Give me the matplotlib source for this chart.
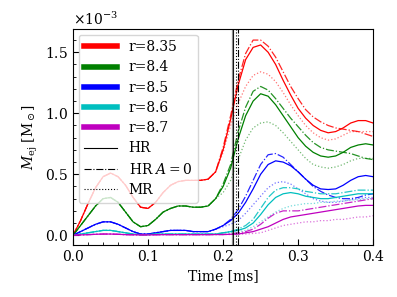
import matplotlib
matplotlib.use("Agg")
import matplotlib.pyplot as plt
from matplotlib.lines import Line2D
from matplotlib.ticker import AutoMinorLocator, MultipleLocator

plt.rcParams['font.family'] = 'DejaVu Serif'
plt.rcParams['mathtext.fontset'] = 'dejavuserif'
plt.rcParams['font.size'] = 10

time = [0.00, 0.01, 0.02, 0.03, 0.04, 0.05, 0.06, 0.07, 0.08, 0.09,
        0.10, 0.11, 0.12, 0.13, 0.14, 0.15, 0.16, 0.17, 0.18, 0.19,
        0.20, 0.21, 0.22, 0.23, 0.24, 0.25, 0.26, 0.27, 0.28, 0.29,
        0.30, 0.31, 0.32, 0.33, 0.34, 0.35, 0.36, 0.37, 0.38, 0.39, 0.40]

# early phase (t = 0.00 .. 0.19), units of 1e-3 Msun
early_835 = [0, 0.12, 0.26, 0.39, 0.48, 0.51, 0.48, 0.41, 0.31, 0.23,
             0.22, 0.27, 0.35, 0.41, 0.44, 0.45, 0.45, 0.45, 0.46, 0.52]
early_84 = [0, 0.08, 0.16, 0.24, 0.30, 0.31, 0.27, 0.19, 0.11, 0.07,
            0.08, 0.13, 0.19, 0.22, 0.24, 0.24, 0.23, 0.23, 0.24, 0.30]
early_85 = [0, 0.03, 0.06, 0.09, 0.11, 0.11, 0.09, 0.06, 0.03, 0.01,
            0.01, 0.02, 0.03, 0.04, 0.04, 0.04, 0.03, 0.03, 0.03, 0.05]
early_86 = [0, 0.01, 0.02, 0.03, 0.04, 0.04, 0.03, 0.02, 0.01, 0.005,
            0.005, 0.01, 0.01, 0.01, 0.01, 0.01, 0.01, 0.01, 0.01, 0.01]
early_87 = [0, 0.003, 0.005, 0.008, 0.01, 0.01, 0.008, 0.005, 0.004, 0.003,
            0.003, 0.004, 0.005, 0.005, 0.005, 0.005, 0.005, 0.005, 0.005, 0.006]

# late phase (t = 0.20 .. 0.40)
late_835_hr = [0.70, 0.95, 1.23, 1.44, 1.54, 1.56, 1.50, 1.40, 1.27, 1.15,
               1.04, 0.96, 0.90, 0.86, 0.84, 0.85, 0.88, 0.92, 0.94, 0.94, 0.92]
late_835_a0 = [0.72, 0.98, 1.27, 1.49, 1.60, 1.60, 1.55, 1.46, 1.34, 1.22,
               1.12, 1.03, 0.97, 0.93, 0.90, 0.88, 0.87, 0.86, 0.85, 0.83, 0.81]
late_835_mr = [0.68, 0.90, 1.08, 1.22, 1.31, 1.34, 1.32, 1.26, 1.17, 1.07,
               0.98, 0.90, 0.84, 0.80, 0.78, 0.79, 0.82, 0.85, 0.85, 0.85, 0.85]

late_84_hr = [0.40, 0.55, 0.79, 0.98, 1.10, 1.16, 1.14, 1.07, 0.98, 0.89,
              0.80, 0.73, 0.68, 0.65, 0.64, 0.65, 0.68, 0.72, 0.74, 0.75, 0.74]
late_84_a0 = [0.42, 0.58, 0.85, 1.05, 1.18, 1.22, 1.19, 1.12, 1.04, 0.96,
              0.89, 0.82, 0.76, 0.72, 0.70, 0.69, 0.68, 0.67, 0.65, 0.63, 0.62]
late_84_mr = [0.35, 0.45, 0.62, 0.78, 0.88, 0.92, 0.93, 0.90, 0.84, 0.77,
              0.70, 0.63, 0.58, 0.56, 0.55, 0.56, 0.58, 0.61, 0.63, 0.63, 0.63]

late_85_hr = [0.08, 0.12, 0.18, 0.27, 0.38, 0.50, 0.58, 0.61, 0.60, 0.57,
              0.52, 0.46, 0.41, 0.38, 0.375, 0.38, 0.41, 0.45, 0.48, 0.49, 0.48]
late_85_a0 = [0.08, 0.13, 0.21, 0.32, 0.45, 0.58, 0.66, 0.67, 0.64, 0.58,
              0.52, 0.46, 0.40, 0.36, 0.33, 0.31, 0.30, 0.30, 0.31, 0.33, 0.34]
late_85_mr = [0.07, 0.09, 0.12, 0.18, 0.25, 0.32, 0.39, 0.43, 0.44, 0.42,
              0.38, 0.34, 0.30, 0.28, 0.27, 0.27, 0.28, 0.29, 0.30, 0.31, 0.31]

late_86_hr = [0.02, 0.03, 0.04, 0.06, 0.10, 0.17, 0.25, 0.31, 0.34, 0.35,
              0.34, 0.32, 0.31, 0.30, 0.30, 0.31, 0.32, 0.33, 0.34, 0.34, 0.34]
late_86_a0 = [0.02, 0.03, 0.05, 0.08, 0.13, 0.22, 0.31, 0.37, 0.39, 0.39,
              0.38, 0.36, 0.35, 0.34, 0.34, 0.34, 0.35, 0.36, 0.37, 0.37, 0.37]
late_86_mr = [0.02, 0.02, 0.03, 0.04, 0.07, 0.11, 0.15, 0.19, 0.22, 0.24,
              0.25, 0.26, 0.26, 0.27, 0.27, 0.28, 0.28, 0.29, 0.29, 0.30, 0.30]

late_87_hr = [0.006, 0.008, 0.01, 0.02, 0.03, 0.05, 0.07, 0.10, 0.13, 0.15,
              0.16, 0.17, 0.18, 0.19, 0.20, 0.21, 0.22, 0.23, 0.24, 0.245, 0.245]
late_87_a0 = [0.006, 0.01, 0.02, 0.03, 0.05, 0.09, 0.14, 0.18, 0.20, 0.20,
              0.20, 0.21, 0.22, 0.23, 0.24, 0.25, 0.26, 0.27, 0.28, 0.29, 0.30]
late_87_mr = [0.006, 0.006, 0.008, 0.01, 0.015, 0.02, 0.04, 0.06, 0.08, 0.09,
              0.10, 0.11, 0.11, 0.12, 0.12, 0.13, 0.13, 0.14, 0.15, 0.15, 0.16]

labels = ['r=8.35', 'r=8.4', 'r=8.5', 'r=8.6', 'r=8.7']
colors = ['#ff0000', 'green', 'blue', 'c', 'm']
early = [early_835, early_84, early_85, early_86, early_87]
late_hr = [late_835_hr, late_84_hr, late_85_hr, late_86_hr, late_87_hr]
late_a0 = [late_835_a0, late_84_a0, late_85_a0, late_86_a0, late_87_a0]
late_mr = [late_835_mr, late_84_mr, late_85_mr, late_86_mr, late_87_mr]

vlines = [0.2137, 0.2173, 0.2205]

fig = plt.figure(figsize=(3.97, 2.97), dpi=100)
ax = fig.add_axes([0.184, 0.175, 0.756, 0.727])

for c, e, h, a, m in zip(colors, early, late_hr, late_a0, late_mr):
    ax.plot(time, [v * 1e-3 for v in e + h], color=c, ls='-', lw=0.9)
    ax.plot(time, [v * 1e-3 for v in e + a], color=c, ls='-.', lw=0.9, alpha=0.85)
    ax.plot(time, [v * 1e-3 for v in e + m], color=c, ls=':', lw=0.9, alpha=0.55)

ax.axvline(vlines[0], color='k', ls='-', lw=1.6, alpha=0.45)
ax.axvline(vlines[0], color='k', ls='-', lw=0.6)
ax.axvline(vlines[1], color='k', ls=':', lw=0.8)
ax.axvline(vlines[2], color='k', ls='-.', lw=0.8)

ax.set_xlim(0, 0.4)
ax.set_ylim(-0.08e-3, 1.69e-3)
ax.xaxis.set_major_locator(MultipleLocator(0.1))
ax.xaxis.set_minor_locator(AutoMinorLocator(5))
ax.yaxis.set_major_locator(MultipleLocator(0.5e-3))
ax.yaxis.set_minor_locator(AutoMinorLocator(5))
ax.tick_params(which='both', direction='in')
ax.tick_params(which='major', length=4)
ax.tick_params(which='minor', length=2)
ax.ticklabel_format(axis='y', style='sci', scilimits=(-3, -3), useMathText=True)

ax.set_xlabel('Time [ms]')
ax.set_ylabel(r'$M_{\rm ej}$ [M$_\odot$]')

handles = [Line2D([], [], color=c, lw=4) for c in colors]
handles += [Line2D([], [], color='k', ls='-', lw=0.8),
            Line2D([], [], color='k', ls='-.', lw=0.8),
            Line2D([], [], color='k', ls=':', lw=0.8)]
leg_labels = labels + ['HR', r'HR $A=0$', 'MR']
ax.legend(handles, leg_labels, loc='upper left', handlelength=2.4,
          fontsize=10, framealpha=0.8, borderaxespad=0.4,
          labelspacing=0.45)

fig.savefig('out.png', dpi=100)
